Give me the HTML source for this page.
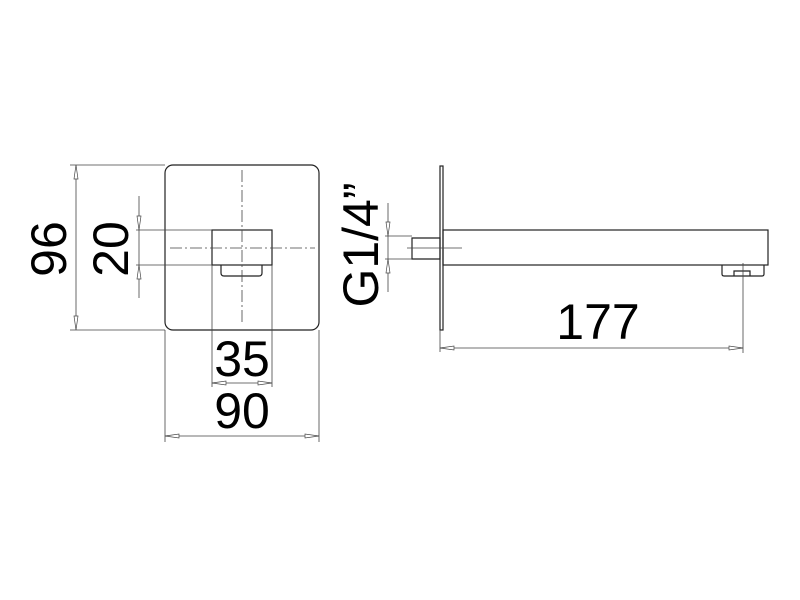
<!DOCTYPE html>
<html><head><style>body{margin:0;background:#fff}svg{display:block}</style></head><body>
<svg width="800" height="600" viewBox="0 0 800 600" xmlns="http://www.w3.org/2000/svg" font-family="Liberation Sans, sans-serif">
<rect width="800" height="600" fill="#fff"/>
<g fill="none" stroke="#222" stroke-width="1.2">
<rect x="165" y="165" width="154" height="165" rx="8"/>
<rect x="212" y="230" width="60" height="35"/>
<path d="M221 265v8q0 3 3 3h35q3 0 3-3v-8"/>
<!-- right view -->
<rect x="440" y="166" width="3" height="164"/>
<rect x="443" y="230" width="325" height="35"/>
<path d="M412 238h28v21h-28z"/>
<path d="M722 265v9q0 2 2 2h38q2 0 2-2v-9M734 276v-5h16v5"/>
</g>
<g stroke="#444" stroke-width="0.8" fill="none">
<path d="M242 170v155" stroke-dasharray="12 3 2 3"/>
<path d="M170 248h145" stroke-dasharray="12 3 2 3"/>
<!-- 96 -->
<path d="M70 165h95M70 330h95M76 165v165"/>
<!-- 20 -->
<path d="M136 230h76M136 265h76M139 196v102"/>
<!-- 35 / 90 -->
<path d="M212 265v122M272 265v122M212 383h60"/>
<path d="M165 330v112M319 330v112M165 436h154"/>
<!-- G1/4 -->
<path d="M385 236h27M385 259h27M388 203v89M407 248h55"/>
<!-- 177 -->
<path d="M440 330v22M743 263v90M440 348h303"/>
</g>
<g fill="#fff" stroke="#444" stroke-width="0.7">
<path d="M76 165l-2 14h4zM76 330l-2-14h4z"/>
<path d="M139 230l-2-14h4zM139 265l-2 14h4z"/>
<path d="M212 383l14-2v4zM272 383l-14-2v4z"/>
<path d="M165 436l14-2v4zM319 436l-14-2v4z"/>
<path d="M388 236l-2-14h4zM388 259l-2 14h4z"/>
<path d="M440 348l14-2v4zM743 348l-14-2v4z"/>
</g>
<g font-size="50" fill="#000" text-anchor="middle">
<text transform="translate(66,249) rotate(-90)">96</text>
<text transform="translate(128,249) rotate(-90)">20</text>
<text x="242" y="376">35</text>
<text x="242" y="428">90</text>
<text x="598" y="339">177</text>
<text transform="translate(378,245) rotate(-90)">G1/4”</text>
</g>
</svg>
</body></html>
